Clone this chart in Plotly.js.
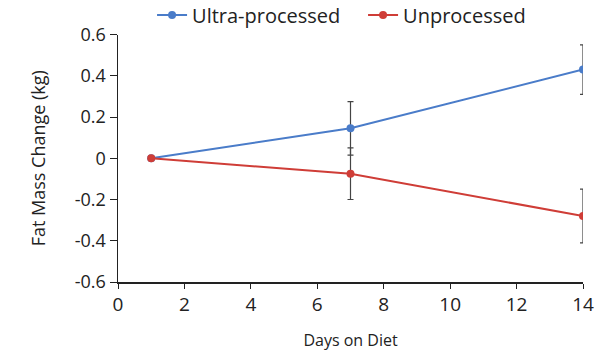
<!DOCTYPE html>
<html><head><meta charset="utf-8">
<script src="https://cdn.plot.ly/plotly-3.0.1.min.js"></script>
<style>body{margin:0;background:#fff}#c{width:600px;height:353px}</style>
</head><body><div id="c"></div>
<script>
const days = [1, 7, 14];
const ultraValues = [0, 0.145, 0.43];
const ultraErr = [0, 0.13, 0.12];
const unprocValues = [0, -0.075, -0.28];
const unprocErr = [0, 0.125, 0.13];
const seriesNames = ["Ultra-processed", "Unprocessed"];
const xTicks = [0, 2, 4, 6, 8, 10, 12, 14];
const yTicks = [-0.6, -0.4, -0.2, 0, 0.2, 0.4, 0.6];
const yTickText = ["-0.6", "-0.4", "-0.2", "0", "0.2", "0.4", "0.6"];

const font = 'Open Sans, Noto Sans, sans-serif';
function tr(name, y, err, color) {
  return {
    x: days, y: y, name: name, type: 'scatter', mode: 'lines+markers',
    line: {color: color, width: 2},
    marker: {color: color, size: 8},
    error_y: {type: 'data', array: err, visible: true, color: '#444', thickness: 1.2, width: 3}
  };
}
const data = [
  tr(seriesNames[0], ultraValues, ultraErr, '#4a7cc9'),
  tr(seriesNames[1], unprocValues, unprocErr, '#cf3d37')
];
const layout = {
  width: 600, height: 353,
  margin: {l: 118, r: 17, t: 32, b: 71},
  paper_bgcolor: '#fff', plot_bgcolor: '#fff',
  font: {family: font, color: '#222'},
  showlegend: true,
  legend: {orientation: 'h', xref: 'paper', x: 0.527, xanchor: 'center',
           yref: 'container', y: 1 - 15/353, yanchor: 'middle',
           entrywidth: 166, entrywidthmode: 'pixels',
           font: {size: 20, color: '#222'}, bgcolor: 'rgba(0,0,0,0)'},
  xaxis: {
    range: [0, 14], tickvals: xTicks, ticks: 'outside', ticklen: 5, tickcolor: '#222',
    showline: true, linecolor: '#222', linewidth: 1.5, showgrid: false, zeroline: false,
    tickfont: {size: 19, color: '#222'},
    title: {text: 'Days on Diet', font: {size: 16, color: '#222'}, standoff: 18}
  },
  yaxis: {
    range: [-0.6, 0.6], tickvals: yTicks, ticktext: yTickText, ticks: 'outside', ticklen: 7, tickcolor: '#222',
    showline: true, linecolor: '#222', linewidth: 1.5, showgrid: false, zeroline: false,
    tickfont: {size: 18, color: '#222'},
    title: {text: 'Fat Mass Change (kg)', font: {size: 18, color: '#222'}, standoff: 24}
  }
};
Plotly.newPlot('c', data, layout, {displayModeBar: false, staticPlot: true});
</script></body></html>
